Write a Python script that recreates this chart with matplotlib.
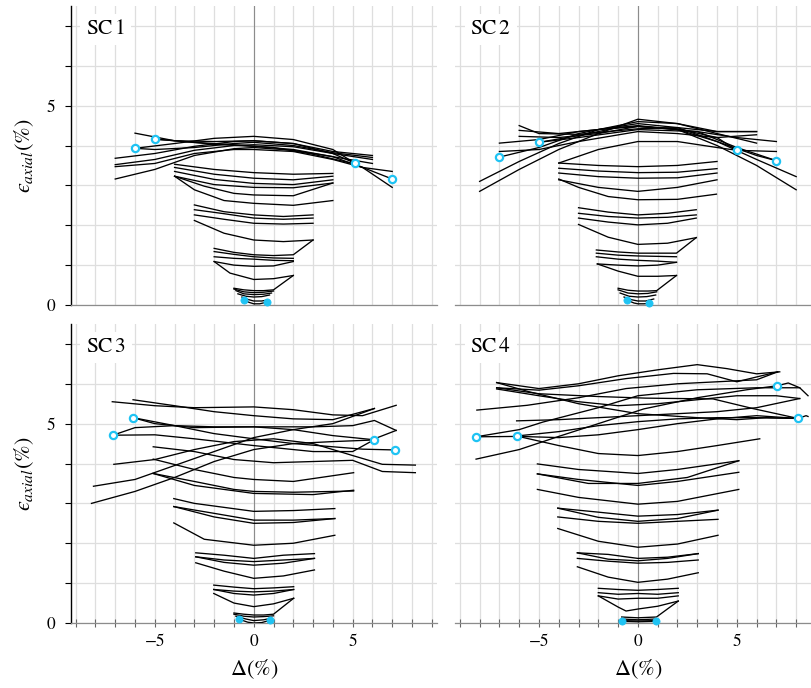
import matplotlib
matplotlib.use("Agg")
import matplotlib.pyplot as plt
from matplotlib.ticker import FixedLocator, MultipleLocator

plt.rcParams["font.family"] = ["STIXGeneral", "DejaVu Serif"]
plt.rcParams["mathtext.fontset"] = "stix"

CYAN = "#1fc3f3"

# ---- SC1: hysteresis sweeps, (delta %, axial strain %) ----
SC1_CURVES = [
    [(-1.0, 0.42), (-0.5, 0.38), (0, 0.36), (0.5, 0.36), (1.0, 0.38), (2.0, 0.74)],
    [(-1.0, 0.40), (-0.5, 0.33), (0, 0.31), (0.5, 0.32), (1.0, 0.35)],
    [(-0.9, 0.36), (-0.5, 0.28), (0, 0.26), (0.5, 0.27), (0.9, 0.30)],
    [(-0.8, 0.28), (-0.4, 0.22), (0, 0.20), (0.4, 0.21), (0.8, 0.25)],
    [(-0.6, 0.20), (-0.3, 0.14), (0, 0.10), (0.4, 0.10), (0.65, 0.12)],
    [(-0.5, 0.12), (-0.2, 0.06), (0, 0.03), (0.3, 0.03), (0.65, 0.07)],
    [(-2.0, 1.42), (-1, 1.32), (0, 1.26), (1, 1.24), (2.0, 1.26), (3.0, 1.63)],
    [(-2.0, 1.34), (-1, 1.27), (0, 1.21), (1, 1.18), (2.0, 1.17)],
    [(-2.0, 1.21), (-1, 1.17), (0, 1.15), (1, 1.12), (2.0, 1.11)],
    [(-2.0, 1.09), (-1, 1.00), (0, 0.97), (1, 0.98), (2.0, 1.09)],
    [(-2.0, 1.09), (-1.2, 0.80), (0, 0.64), (1, 0.66), (2.0, 0.74)],
    [(-3.0, 2.51), (-1.5, 2.34), (0, 2.26), (1.5, 2.22), (3.0, 2.26)],
    [(-3.0, 2.39), (-1.5, 2.29), (0, 2.18), (1.5, 2.15), (3.0, 2.18)],
    [(-3.0, 2.26), (-1.5, 2.15), (0, 2.05), (1.5, 2.03), (3.0, 2.05)],
    [(-3.0, 2.12), (-1.5, 1.80), (0, 1.63), (1.5, 1.59), (3.0, 1.63)],
    [(-4.0, 3.23), (-3, 2.89), (-1.5, 2.62), (0, 2.55), (2, 2.50), (4.0, 2.62)],
    [(-4.0, 3.53), (-2, 3.40), (0, 3.32), (2, 3.28), (4.0, 3.30)],
    [(-4.0, 3.45), (-2, 3.28), (0, 3.18), (2, 3.14), (4.0, 3.23)],
    [(-4.0, 3.35), (-2, 3.15), (0, 3.05), (2, 3.02), (4.0, 3.14)],
    [(-4.0, 3.23), (-2, 3.02), (0, 2.95), (2, 2.94), (4.0, 3.06)],
    [(-4.0, 3.23), (-2.5, 2.98), (-1, 2.80), (0, 2.76), (2, 2.74), (4.0, 3.06)],
    [(-6.0, 4.31), (-4, 4.12), (-2, 4.03), (0, 3.98), (2, 3.90), (4, 3.72), (5.5, 3.45), (7.0, 3.35)],
    [(-7.0, 3.68), (-5, 3.80), (-3, 3.98), (-1, 4.10), (0, 4.12), (2, 4.05), (4, 3.85), (6.0, 3.75)],
    [(-7.0, 3.52), (-5, 3.65), (-3, 3.88), (-1, 4.00), (0, 4.02), (2, 3.97), (4, 3.80), (6.0, 3.65)],
    [(-7.0, 3.16), (-5, 3.40), (-3, 3.75), (-1, 3.92), (0, 3.95), (2, 3.88), (4, 3.72), (6.0, 3.55)],
    [(-7.0, 3.47), (-5, 3.55), (-3, 3.80), (-1, 3.90), (0, 3.90), (2, 3.85), (4, 3.65), (5.5, 3.45), (7.0, 2.95)],
    [(-6.0, 3.93), (-4, 4.05), (-2, 4.18), (0, 4.23), (2, 4.15), (4, 3.90), (5.1, 3.56)],
    [(-5.0, 4.16), (-3, 4.08), (-1, 4.02), (1, 3.95), (3, 3.78), (5, 3.55), (7.0, 3.16)],
    [(-6.0, 3.93), (-5, 3.90), (-3, 3.95), (-1, 4.05), (0, 4.08), (2, 4.00), (4, 3.82), (6.0, 3.70)],
    [(-5.0, 4.16), (-4, 4.12), (-2, 4.10), (0, 4.12), (2, 4.05), (4, 3.80), (5.1, 3.56)],
]
SC1_OPEN_X = [-6.0, -5.0, 5.1, 7.0]
SC1_OPEN_Y = [3.93, 4.16, 3.56, 3.16]
SC1_DOT_X = [-0.5, 0.65]
SC1_DOT_Y = [0.12, 0.07]

# ---- SC2 ----
SC2_CURVES = [
    [(-1.0, 0.42), (-0.5, 0.37), (0, 0.35), (0.5, 0.35), (0.95, 0.36), (1.95, 0.74)],
    [(-1.0, 0.38), (-0.5, 0.30), (0, 0.28), (0.5, 0.29), (0.95, 0.33)],
    [(-0.9, 0.30), (-0.45, 0.22), (0, 0.20), (0.45, 0.21), (0.9, 0.25)],
    [(-0.7, 0.20), (-0.3, 0.13), (0, 0.10), (0.4, 0.10), (0.8, 0.15)],
    [(-0.54, 0.12), (-0.2, 0.05), (0, 0.03), (0.3, 0.03), (0.57, 0.04)],
    [(-2.1, 1.38), (-1, 1.33), (0, 1.30), (1, 1.30), (1.95, 1.30), (2.95, 1.69)],
    [(-2.1, 1.30), (-1, 1.25), (0, 1.23), (1, 1.22), (1.95, 1.21)],
    [(-2.1, 1.21), (-1, 1.15), (0, 1.12), (1, 1.10), (1.95, 1.07)],
    [(-2.05, 1.03), (-1, 0.85), (0, 0.72), (1, 0.72), (1.95, 0.74)],
    [(-2.05, 1.03), (-1, 1.00), (0, 0.98), (1, 1.00), (1.95, 1.07)],
    [(-3.0, 2.44), (-1.5, 2.33), (0, 2.26), (1.5, 2.30), (2.95, 2.39)],
    [(-3.0, 2.30), (-1.5, 2.22), (0, 2.18), (1.5, 2.20), (2.95, 2.26)],
    [(-3.0, 2.18), (-1.5, 2.08), (0, 2.01), (1.5, 2.05), (2.95, 2.18)],
    [(-3.0, 2.02), (-1.5, 1.70), (0, 1.52), (1.5, 1.55), (2.95, 1.69)],
    [(-4.0, 3.16), (-3.0, 2.95), (-1.5, 2.72), (0, 2.64), (2, 2.65), (3.97, 2.78)],
    [(-4.0, 3.56), (-2, 3.50), (0, 3.47), (2, 3.50), (4.0, 3.60)],
    [(-4.0, 3.43), (-2, 3.36), (0, 3.32), (2, 3.33), (4.0, 3.42)],
    [(-4.0, 3.31), (-2, 3.22), (0, 3.18), (2, 3.19), (4.0, 3.31)],
    [(-4.0, 3.14), (-2, 2.95), (0, 2.85), (2, 2.95), (4.0, 3.14)],
    [(-8.0, 3.10), (-6, 3.60), (-4, 4.05), (-2, 4.40), (0, 4.55), (2, 4.45), (4, 4.10), (6, 3.65), (8.0, 3.22)],
    [(-8.0, 2.85), (-6, 3.40), (-4, 3.90), (-2, 4.30), (0, 4.48), (2, 4.40), (4, 4.00), (6, 3.50), (8.0, 2.89)],
    [(-7.0, 3.71), (-5, 3.95), (-3, 4.30), (-1, 4.50), (0, 4.60), (2, 4.55), (4, 4.30), (6.0, 4.06)],
    [(-7.0, 4.06), (-5, 4.15), (-3, 4.35), (0, 4.50), (3, 4.35), (5, 3.95), (7.0, 3.62)],
    [(-6.0, 4.50), (-5, 4.30), (-3, 4.28), (0, 4.42), (2, 4.45), (4, 4.35), (6.0, 4.35)],
    [(-6.0, 4.38), (-4, 4.30), (-2, 4.40), (0, 4.48), (2, 4.42), (4, 4.20), (5.0, 3.88)],
    [(-5.0, 4.08), (-3, 4.25), (-1, 4.45), (0, 4.48), (2, 4.40), (4, 4.10), (6, 3.75), (7.0, 3.62)],
    [(-7.0, 3.85), (-5, 3.90), (-3, 4.10), (0, 4.35), (2, 4.30), (4, 4.20), (6.0, 4.27)],
    [(-6.0, 4.23), (-4, 4.20), (-2, 4.30), (0, 4.66), (2, 4.55), (4, 4.35), (6.0, 4.35)],
    [(-5.0, 4.08), (-3, 4.20), (0, 4.40), (3, 4.35), (5, 4.20), (7.0, 4.10)],
    [(-4.0, 3.56), (-2, 3.90), (0, 4.10), (2, 4.10), (4, 3.95), (5.0, 3.88), (7.0, 3.85)],
]
SC2_OPEN_X = [-7.0, -5.0, 5.0, 7.0]
SC2_OPEN_Y = [3.71, 4.08, 3.88, 3.62]
SC2_DOT_X = [-0.54, 0.57]
SC2_DOT_Y = [0.12, 0.04]

# ---- SC3 ----
SC3_CURVES = [
    [(-1.0, 0.25), (-0.5, 0.22), (0, 0.20), (0.5, 0.20), (1.0, 0.22), (2.02, 0.62)],
    [(-1.0, 0.22), (-0.5, 0.17), (0, 0.15), (0.5, 0.16), (1.0, 0.18)],
    [(-0.9, 0.17), (-0.4, 0.10), (0, 0.06), (0.5, 0.08), (0.9, 0.12)],
    [(-0.72, 0.09), (-0.3, 0.02), (0, 0.00), (0.4, 0.01), (0.84, 0.07)],
    [(-2.02, 0.95), (-1, 0.90), (0, 0.86), (1, 0.88), (2.02, 0.91)],
    [(-2.02, 0.84), (-1, 0.80), (0, 0.78), (1, 0.80), (2.02, 0.84)],
    [(-2.02, 0.84), (-1, 0.74), (0, 0.70), (1, 0.74), (2.02, 0.84)],
    [(-2.02, 0.74), (-1, 0.50), (0, 0.41), (1, 0.48), (2.02, 0.62)],
    [(-2.93, 1.76), (-1.5, 1.70), (0, 1.62), (1.5, 1.70), (3.07, 1.74)],
    [(-2.93, 1.66), (-1.5, 1.58), (0, 1.54), (1.5, 1.58), (3.07, 1.62)],
    [(-2.93, 1.66), (-1.5, 1.52), (0, 1.45), (1.5, 1.50), (3.07, 1.62)],
    [(-2.93, 1.51), (-1.5, 1.30), (0, 1.12), (1.5, 1.18), (3.07, 1.33)],
    [(-4.04, 3.12), (-3, 3.00), (0, 2.80), (2, 2.82), (4.1, 2.87)],
    [(-4.04, 2.92), (-2, 2.75), (0, 2.58), (2, 2.58), (4.1, 2.62)],
    [(-4.04, 2.92), (-2, 2.66), (0, 2.50), (2, 2.52), (4.1, 2.62)],
    [(-4.04, 2.51), (-2.5, 2.10), (0, 1.95), (2, 2.00), (4.1, 2.20)],
    [(-5.08, 3.75), (-3, 3.45), (0, 3.25), (3, 3.22), (5.05, 3.33)],
    [(-5.08, 4.11), (-3, 3.85), (-1, 3.65), (0, 3.60), (2, 3.55), (5.05, 3.77)],
    [(-5.08, 3.75), (-3, 3.55), (-1, 3.35), (0, 3.30), (2, 3.28), (5.05, 3.31)],
    [(-7.15, 5.55), (-5, 5.45), (-3, 5.40), (0, 5.42), (2, 5.35), (4, 5.22), (5.5, 5.20), (7.2, 5.46)],
    [(-6.1, 5.60), (-4, 5.45), (-2, 5.30), (0, 5.20), (2, 5.12), (4, 5.10), (6.1, 5.38)],
    [(-6.1, 5.15), (-4, 4.95), (-2, 4.75), (0, 4.62), (2, 4.50), (4, 4.42), (5.5, 4.36), (7.16, 4.34)],
    [(-7.12, 4.71), (-6, 4.90), (-4, 4.95), (-2, 4.92), (0, 4.92), (2, 4.85), (4, 4.70), (6, 4.60), (7.2, 4.83)],
    [(-8.2, 3.00), (-6, 3.30), (-4, 3.65), (-2, 4.05), (0, 4.35), (2, 4.50), (4, 4.55), (6.06, 4.59)],
    [(-8.1, 3.43), (-6, 3.60), (-4, 3.95), (-2, 4.30), (0, 4.65), (2, 4.85), (4, 5.00), (6.1, 5.38)],
    [(-7.07, 3.98), (-5, 4.10), (-3, 4.35), (-1, 4.55), (1, 4.62), (3, 4.50), (5, 4.20), (6.5, 3.98), (8.17, 3.96)],
    [(-5.08, 4.42), (-3, 4.30), (-1, 4.10), (1, 4.02), (3, 4.05), (5, 4.08), (6.5, 3.80), (8.17, 3.77)],
    [(-7.12, 4.71), (-5, 4.72), (-3, 4.62), (0, 4.45), (3, 4.30), (5, 4.30), (6.06, 4.59)],
    [(-6.1, 5.15), (-5, 5.00), (-3, 4.90), (0, 4.92), (3, 4.92), (5, 4.95), (6.1, 5.08), (7.2, 4.83)],
]
SC3_OPEN_X = [-7.12, -6.1, 6.06, 7.16]
SC3_OPEN_Y = [4.71, 5.15, 4.59, 4.34]
SC3_DOT_X = [-0.72, 0.84]
SC3_DOT_Y = [0.09, 0.07]

# ---- SC4 ----
SC4_CURVES = [
    [(-0.82, 0.15), (0, 0.13), (0.94, 0.15), (2.04, 0.55)],
    [(-0.82, 0.10), (0, 0.08), (0.91, 0.10)],
    [(-0.82, 0.06), (0, 0.05), (0.91, 0.06)],
    [(-0.82, 0.04), (0, 0.03), (0.91, 0.04)],
    [(-2.0, 0.87), (-1, 0.84), (0, 0.82), (1, 0.84), (2.04, 0.87)],
    [(-2.0, 0.76), (-1, 0.72), (0, 0.74), (1, 0.72), (2.04, 0.76)],
    [(-2.0, 0.68), (-1, 0.60), (0, 0.62), (1, 0.62), (2.04, 0.68)],
    [(-2.0, 0.68), (-1, 0.40), (-0.6, 0.30), (0, 0.35), (1, 0.42), (2.04, 0.55)],
    [(-3.06, 1.76), (-1.5, 1.72), (0, 1.62), (1.5, 1.65), (3.05, 1.74)],
    [(-3.06, 1.76), (-1.5, 1.60), (0, 1.56), (1.5, 1.62), (3.05, 1.74)],
    [(-3.06, 1.62), (-1.5, 1.55), (0, 1.50), (1.5, 1.52), (3.05, 1.58)],
    [(-3.06, 1.41), (-1.5, 1.15), (0, 1.02), (1.5, 1.10), (3.05, 1.26)],
    [(-4.05, 2.88), (-2, 2.78), (0, 2.68), (2, 2.72), (4.05, 2.83)],
    [(-4.05, 2.88), (-2, 2.65), (0, 2.55), (2, 2.62), (4.05, 2.83)],
    [(-4.05, 2.66), (-2, 2.55), (0, 2.50), (2, 2.55), (4.05, 2.60)],
    [(-4.05, 2.37), (-2, 2.05), (0, 1.90), (2, 1.98), (4.05, 2.20)],
    [(-5.08, 3.99), (-3, 3.85), (0, 3.75), (2, 3.85), (5.1, 4.07)],
    [(-5.08, 3.74), (-2.5, 3.50), (0, 3.50), (2.5, 3.65), (5.1, 4.07)],
    [(-5.08, 3.74), (-3, 3.60), (0, 3.45), (2, 3.55), (5.1, 3.78)],
    [(-5.08, 3.35), (-3, 3.15), (0, 2.98), (2, 3.05), (5.1, 3.35)],
    [(-7.14, 6.03), (-5, 5.88), (-3, 6.00), (-1, 6.20), (1, 6.35), (3, 6.48), (4.5, 6.38), (6, 6.25), (7.17, 6.30)],
    [(-7.14, 5.90), (-5, 5.84), (-3, 5.95), (-0.6, 6.13), (1.8, 6.26), (3.5, 6.25), (5, 6.05), (7.07, 6.30)],
    [(-7.14, 5.90), (-5, 5.75), (-2, 5.68), (0.4, 5.64), (3.8, 5.62), (5.8, 5.38), (8.1, 5.13)],
    [(-8.14, 5.34), (-5.6, 5.46), (-3, 5.65), (-0.6, 5.88), (2, 6.00), (4, 6.05), (6, 6.10), (7.07, 6.30)],
    [(-8.18, 4.67), (-6, 4.85), (-4.8, 5.04), (-2, 5.40), (0, 5.70), (3, 5.85), (6, 5.90), (8.18, 5.90)],
    [(-8.18, 4.11), (-6, 4.35), (-3.94, 4.69), (-2, 5.00), (0.3, 5.37), (3, 5.65), (5.5, 5.85), (7.04, 5.95)],
    [(-6.13, 4.69), (-4, 4.45), (-2, 4.25), (0, 4.20), (2, 4.30), (4, 4.45), (6.16, 4.62)],
    [(-6.13, 4.69), (-4, 4.80), (-2, 4.95), (0, 5.05), (2, 5.12), (4, 5.15), (6, 5.15), (8.1, 5.13)],
    [(-8.18, 4.67), (-6, 4.68), (-4, 4.65), (-2, 4.72), (0, 4.85), (2, 5.00), (4, 5.12), (6, 5.20), (8.1, 5.13)],
    [(-6.13, 5.07), (-4, 5.10), (-2, 5.15), (0, 5.20), (2, 5.25), (4, 5.30), (6, 5.40), (8.18, 5.63)],
    [(-7.14, 6.03), (-5.5, 5.80), (-3, 5.50), (0, 5.25), (3, 5.15), (5, 5.10), (6.5, 5.15), (8.1, 5.13)],
    [(-7.14, 5.87), (-5, 5.70), (-3, 5.55), (-1, 5.45), (1, 5.50), (3, 5.60), (5, 5.70), (7, 5.70), (8.18, 5.63)],
    [(7.04, 5.95), (7.6, 6.02), (8.18, 5.90), (8.6, 5.70)],
    [(8.1, 5.13), (8.5, 5.20), (8.6, 5.18)],
]
SC4_OPEN_X = [-8.18, -6.13, 7.04, 8.1]
SC4_OPEN_Y = [4.67, 4.69, 5.95, 5.13]
SC4_DOT_X = [-0.82, 0.91]
SC4_DOT_Y = [0.04, 0.04]

PANELS = [
    ("SC$\\,$1", SC1_CURVES, SC1_OPEN_X, SC1_OPEN_Y, SC1_DOT_X, SC1_DOT_Y),
    ("SC$\\,$2", SC2_CURVES, SC2_OPEN_X, SC2_OPEN_Y, SC2_DOT_X, SC2_DOT_Y),
    ("SC$\\,$3", SC3_CURVES, SC3_OPEN_X, SC3_OPEN_Y, SC3_DOT_X, SC3_DOT_Y),
    ("SC$\\,$4", SC4_CURVES, SC4_OPEN_X, SC4_OPEN_Y, SC4_DOT_X, SC4_DOT_Y),
]


def main():
    fig = plt.figure(figsize=(8.11, 6.88), dpi=100)
    w, h = 0.4513, 0.4346
    rects = [(0.0872, 0.5567), (0.5609, 0.5567), (0.0872, 0.0945), (0.5609, 0.0945)]

    for i, ((name, curves, ox, oy, dx, dy), (l, b)) in enumerate(zip(PANELS, rects)):
        ax = fig.add_axes([l, b, w, h])
        left_col = i % 2 == 0
        bottom_row = i >= 2
        ax.set_xlim(-9.25, 9.25)
        ax.set_ylim(0, 7.5)

        ax.xaxis.set_major_locator(FixedLocator([-5, 0, 5]))
        ax.xaxis.set_minor_locator(MultipleLocator(1))
        ax.yaxis.set_major_locator(FixedLocator([0, 5]))
        ax.yaxis.set_minor_locator(MultipleLocator(1))
        ax.grid(True, which="both", color="#dedede", lw=0.9, zorder=0)
        ax.set_axisbelow(True)

        for s in ("top", "right"):
            ax.spines[s].set_visible(False)
        ax.spines["bottom"].set_color("#8c8c8c")
        ax.spines["bottom"].set_linewidth(0.9)
        ax.axvline(0, color="#8c8c8c", lw=0.8, zorder=1)

        if left_col:
            ax.spines["left"].set_color("black")
            ax.spines["left"].set_linewidth(1.0)
            ax.tick_params(axis="y", which="both", direction="out", length=4,
                           width=0.8, color="black", labelsize=12.5, pad=7)
            ax.set_ylabel("$\u03f5_{axial}$(%)", fontsize=16)
            ax.yaxis.set_label_coords(-0.095, 0.5)
        else:
            ax.spines["left"].set_visible(False)
            ax.tick_params(axis="y", which="both", length=0, labelleft=False)

        if bottom_row:
            ax.tick_params(axis="x", which="both", direction="inout", length=6,
                           width=0.8, color="#666666", labelsize=12.5, pad=5)
            ax.set_xlabel("$\\Delta$(%)", fontsize=16)
            ax.xaxis.set_label_coords(0.5, -0.115)
        else:
            ax.tick_params(axis="x", which="both", length=0, labelbottom=False)

        for c in curves:
            xs = [p[0] for p in c]
            ys = [p[1] for p in c]
            ax.plot(xs, ys, color="black", lw=0.95, zorder=3, solid_joinstyle="round")

        ax.plot(ox, oy, "o", ms=5.2, mfc="white", mec=CYAN, mew=1.6, zorder=5, clip_on=False)
        ax.plot(dx, dy, "o", ms=5.2, mfc=CYAN, mec=CYAN, mew=0.5, zorder=5, clip_on=False)

        ax.text(0.042, 0.922, name, transform=ax.transAxes, fontsize=15.5,
                ha="left", va="center", zorder=6,
                bbox=dict(facecolor="white", edgecolor="none", pad=4))

    fig.savefig("out.png", dpi=100)


if __name__ == "__main__":
    main()
